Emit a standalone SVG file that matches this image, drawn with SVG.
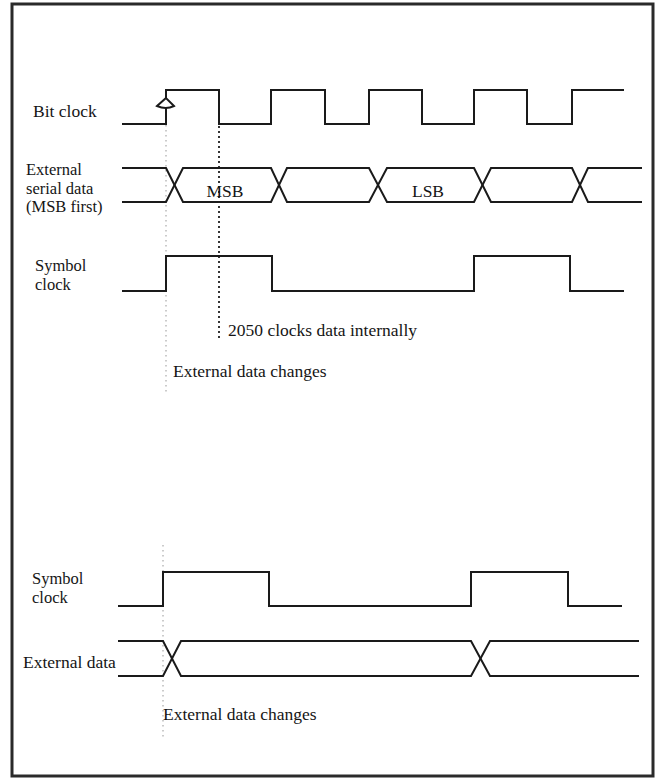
<svg xmlns="http://www.w3.org/2000/svg" width="658" height="778" viewBox="0 0 658 778">
<style>
text{font-family:"Liberation Serif","Times New Roman",serif;font-size:17.5px;fill:#151515}
.s{font-size:16.5px}
.w{fill:none;stroke:#1a1a1a;stroke-width:2;stroke-linejoin:miter}
.dl{fill:none;stroke:#b0b0b0;stroke-width:1.3;stroke-dasharray:1.5 3.5}
.dd{fill:none;stroke:#333;stroke-width:2;stroke-dasharray:2 3}
</style>
<rect x="0" y="0" width="658" height="778" fill="#fff"/>
<rect id="frame" x="12" y="4" width="641" height="772" fill="none" stroke="#2a2a2a" stroke-width="3"/>

<g id="labels">
<text x="33" y="117">Bit clock</text>
<text class="s" x="26" y="175">External</text>
<text class="s" x="26" y="193.5">serial data</text>
<text class="s" x="26" y="212">(MSB first)</text>
<text class="s" x="35" y="271">Symbol</text>
<text class="s" x="35" y="290">clock</text>
<text class="s" x="32" y="584">Symbol</text>
<text class="s" x="32" y="603">clock</text>
<text x="23" y="668">External data</text>
</g>

<g id="connectors">
<path class="dl" d="M166,110 V392"/>
<path class="dd" d="M219,126 V340"/>
<path class="dl" d="M163,545 V740"/>
</g>

<g id="bit-clock">
<path class="w" d="M122,124 H166 V90 H219 V124 H271 V90 H325 V124 H369 V90 H422 V124 H474 V90 H527 V124 H572 V90 H624"/>
<path d="M166,98 L157,106 Q166,110 174,106 Z" fill="#fff" stroke="#1a1a1a" stroke-width="2" stroke-linejoin="miter"/>
</g>

<g id="serial-data">
<path class="w" d="M122,168 H166 L183,202 H271 L287,168 H369 L387,202 H474 L491,168 H572 L588,202 H642"/>
<path class="w" d="M122,202 H166 L183,168 H271 L287,202 H369 L387,168 H474 L491,202 H572 L588,168 H642"/>
<text x="225" y="197" text-anchor="middle">MSB</text>
<text x="428" y="197" text-anchor="middle">LSB</text>
</g>

<g id="symbol-clock-1">
<path class="w" d="M122,291 H166 V256 H272 V291 H474 V256 H570 V291 H624"/>
</g>

<g id="notes-1">
<text x="228" y="336">2050 clocks data internally</text>
<text x="173" y="377">External data changes</text>
</g>

<g id="symbol-clock-2">
<path class="w" d="M118,606 H163 V572 H269 V606 H471 V572 H568 V606 H622"/>
</g>

<g id="external-data">
<path class="w" d="M118,641 H163 L181,676 H471 L490,641 H639"/>
<path class="w" d="M118,676 H163 L181,641 H471 L490,676 H639"/>
</g>

<g id="notes-2">
<text x="163" y="720">External data changes</text>
</g>
</svg>
